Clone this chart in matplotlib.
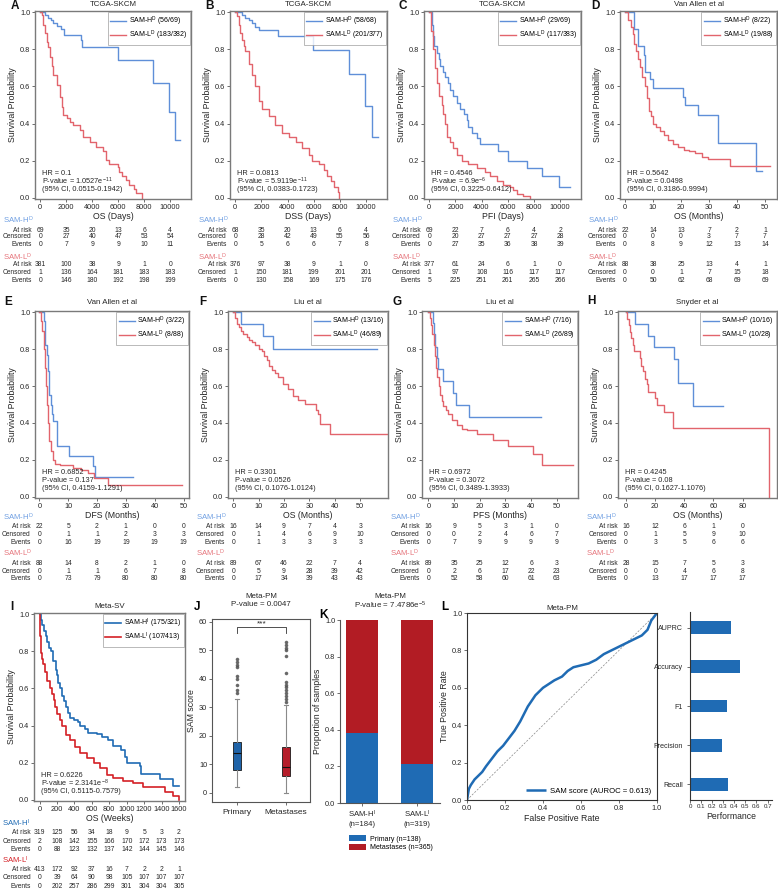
#!/usr/bin/env python3
"""Survival / Meta-PM composite figure (panels A-L)."""

import matplotlib
matplotlib.use("Agg")
import matplotlib.pyplot as plt
import matplotlib.transforms as mtransforms
from matplotlib.patches import Patch

plt.rcParams["font.family"] = ["Liberation Sans", "DejaVu Sans"]
plt.rcParams["mathtext.fontset"] = "custom"
plt.rcParams["mathtext.rm"] = "Liberation Sans"
plt.rcParams["mathtext.it"] = "Liberation Sans:italic"
plt.rcParams["mathtext.bf"] = "Liberation Sans:bold"

W, H = 778, 888

# ---------------- data ----------------
# A  TCGA-SKCM OS (days)
A_hi_t = [0, 380, 600, 800, 1000, 1300, 1600, 1800, 3100, 3250, 6000, 8650, 9870, 10380, 10760]
A_hi_s = [1, 0.985, 0.97, 0.955, 0.94, 0.925, 0.91, 0.875, 0.85, 0.81, 0.74, 0.617, 0.46, 0.31, 0.31]
A_lo_t = [0, 127, 253, 380, 506, 633, 760, 886, 1013, 1266, 1519, 1646, 1772, 2025, 2278, 2532, 3038,
          3291, 3797, 4304, 4810, 5063, 5316, 5949, 6076, 6329, 6582, 6835, 7215, 7342, 7848]
A_lo_s = [1, 0.985, 0.93, 0.89, 0.84, 0.81, 0.76, 0.71, 0.66, 0.61, 0.545, 0.49, 0.446, 0.43, 0.41, 0.39,
          0.365, 0.33, 0.30, 0.275, 0.25, 0.203, 0.185, 0.167, 0.14, 0.12, 0.095, 0.068, 0.05, 0.027, 0.0]
A_hi_tab = [[69, 35, 20, 13, 6, 4], [0, 27, 40, 47, 53, 54], [0, 7, 9, 9, 10, 11]]
A_lo_tab = [[381, 100, 38, 9, 1, 0], [1, 136, 164, 181, 183, 183], [0, 146, 180, 192, 198, 199]]

# B  TCGA-SKCM DSS (days)
B_hi_t = [0, 513, 770, 1026, 1282, 1538, 1795, 3280, 5950, 8720, 9950, 10460, 10900]
B_hi_s = [1, 0.985, 0.97, 0.955, 0.94, 0.92, 0.905, 0.87, 0.795, 0.665, 0.497, 0.33, 0.33]
B_lo_t = [0, 128, 256, 385, 513, 641, 769, 1026, 1282, 1538, 1795, 2051, 2564, 3077, 3590, 4103,
          4615, 5128, 5641, 5897, 6410, 6795, 7051, 7308, 7564, 7821, 7949]
B_lo_s = [1, 0.98, 0.93, 0.89, 0.85, 0.82, 0.79, 0.72, 0.66, 0.6, 0.52, 0.48, 0.44, 0.39, 0.35, 0.33,
          0.30, 0.27, 0.23, 0.2, 0.18, 0.15, 0.12, 0.09, 0.06, 0.03, 0.0]
B_hi_tab = [[68, 35, 20, 13, 6, 4], [0, 28, 42, 49, 55, 56], [0, 5, 6, 6, 7, 8]]
B_lo_tab = [[376, 97, 38, 9, 1, 0], [1, 150, 181, 199, 201, 201], [0, 130, 158, 169, 175, 176]]

# C  TCGA-SKCM PFI (days)
C_hi_t = [0, 179, 306, 383, 561, 765, 816, 1020, 1199, 1454, 1582, 1837, 2092, 2347, 2653, 2857,
          2985, 3240, 3673, 3878, 5281, 6046, 7449, 8597, 9949, 10765]
C_hi_s = [1, 0.93, 0.87, 0.82, 0.78, 0.75, 0.71, 0.68, 0.65, 0.62, 0.58, 0.55, 0.51, 0.48, 0.45, 0.42,
          0.38, 0.35, 0.32, 0.288, 0.255, 0.2, 0.16, 0.12, 0.06, 0.06]
C_lo_t = [0, 102, 255, 434, 561, 765, 944, 1071, 1199, 1378, 1582, 1837, 2092, 2474, 2985, 3622,
          4260, 4643, 5153, 5663, 6173, 6429, 6684, 7194, 7704]
C_lo_s = [1, 0.9, 0.8, 0.7, 0.62, 0.55, 0.5, 0.45, 0.4, 0.33, 0.3, 0.27, 0.23, 0.2, 0.18, 0.16,
          0.14, 0.12, 0.09, 0.07, 0.06, 0.04, 0.02, 0.01, 0.0]
C_hi_tab = [[69, 22, 7, 6, 4, 2], [0, 20, 27, 27, 27, 28], [0, 27, 35, 36, 38, 39]]
C_lo_tab = [[377, 61, 24, 6, 1, 0], [1, 97, 108, 116, 117, 117], [5, 225, 251, 261, 265, 266]]

# D  Van Allen OS (months)
D_hi_t = [0, 3.3, 4.5, 6.9, 7.1, 8.9, 10.1, 20.8, 21.4, 26, 33.3, 46.7, 48.8]
D_hi_s = [1, 0.91, 0.82, 0.77, 0.68, 0.64, 0.59, 0.545, 0.5, 0.445, 0.295, 0.145, 0.145]
D_lo_t = [0, 1, 2.1, 2.7, 3.3, 3.9, 4.5, 5.4, 6.2, 7.1, 7.9, 8.6, 9.3, 10.1, 11, 12.5, 14, 15.5,
          17, 19, 21, 23, 25, 27.4, 29.8, 37.5, 51.8]
D_lo_s = [1, 0.96, 0.92, 0.88, 0.83, 0.79, 0.75, 0.707, 0.65, 0.6, 0.54, 0.47, 0.44, 0.4, 0.38, 0.36,
          0.34, 0.31, 0.29, 0.275, 0.26, 0.25, 0.24, 0.22, 0.21, 0.17, 0.17]
D_hi_tab = [[22, 14, 13, 7, 2, 1], [0, 0, 0, 3, 7, 7], [0, 8, 9, 12, 13, 14]]
D_lo_tab = [[88, 38, 25, 13, 4, 1], [0, 0, 1, 7, 15, 18], [0, 50, 62, 68, 69, 69]]

# E  Van Allen DFS (months)
E_hi_t = [0, 1.5, 1.8, 2, 2.5, 3, 3.2, 3.5, 4, 4.3, 4.6, 6.0, 10.3, 18.5, 19.4, 32.5]
E_hi_s = [1, 0.95, 0.9, 0.82, 0.77, 0.68, 0.6, 0.55, 0.5, 0.45, 0.41, 0.275, 0.22, 0.165, 0.11, 0.11]
E_lo_t = [0, 0.5, 1, 1.5, 2, 2.4, 2.8, 3.1, 3.5, 4, 4.6, 5.5, 7.2, 11.7, 14.5, 16.8, 18.9, 23.9, 49.5]
E_lo_s = [1, 0.95, 0.9, 0.8, 0.7, 0.6, 0.5, 0.4, 0.3, 0.25, 0.2, 0.18, 0.17, 0.155, 0.145, 0.13,
          0.1, 0.065, 0.065]
E_hi_tab = [[22, 5, 2, 1, 0, 0], [0, 1, 1, 2, 3, 3], [0, 16, 19, 19, 19, 19]]
E_lo_tab = [[88, 14, 8, 2, 1, 0], [0, 1, 1, 6, 7, 8], [0, 73, 79, 80, 80, 80]]

# F  Liu OS (months)
F_hi_t = [0, 2.9, 11.8, 15.8, 56.6]
F_hi_s = [1, 0.937, 0.87, 0.80, 0.80]
F_lo_t = [0, 0.6, 1.3, 2.2, 2.9, 4, 5.3, 6.3, 7.2, 8.6, 10, 11.2, 12.2, 13.2, 14.2, 15.1, 16.5, 17.8,
          19.7, 21.7, 23.7, 25.7, 28.4, 32.6, 33.5, 34.2, 38.2, 60.5]
F_lo_s = [1, 0.97, 0.937, 0.92, 0.9, 0.88, 0.865, 0.85, 0.84, 0.82, 0.80, 0.79, 0.76, 0.74, 0.71,
          0.685, 0.67, 0.65, 0.61, 0.585, 0.545, 0.525, 0.505, 0.47, 0.45, 0.396, 0.342, 0.342]
F_hi_tab = [[16, 14, 9, 7, 4, 3], [0, 1, 4, 6, 9, 10], [0, 1, 3, 3, 3, 3]]
F_lo_tab = [[89, 67, 46, 22, 7, 4], [0, 5, 9, 28, 39, 42], [0, 17, 34, 39, 43, 43]]

# G  Liu PFS (months)
G_hi_t = [0, 1.6, 2.0, 2.5, 3.4, 3.9, 5.6, 9.7, 10.6, 15.8, 44]
G_hi_s = [1, 0.94, 0.88, 0.81, 0.75, 0.69, 0.625, 0.56, 0.5, 0.43, 0.43]
G_lo_t = [0, 0.5, 1, 1.5, 2, 2.5, 3, 3.5, 4, 4.5, 5.2, 5.8, 6.8, 7.8, 9.1, 11, 13, 15, 18.8, 25.3,
          31.2, 40.9, 44.2, 56.2]
G_lo_s = [1, 0.97, 0.93, 0.88, 0.82, 0.76, 0.7, 0.65, 0.6, 0.55, 0.52, 0.49, 0.47, 0.45, 0.415, 0.39,
          0.37, 0.36, 0.34, 0.306, 0.274, 0.23, 0.17, 0.17]
G_hi_tab = [[16, 9, 5, 3, 1, 0], [0, 0, 2, 4, 6, 7], [0, 7, 9, 9, 9, 9]]
G_lo_tab = [[89, 35, 25, 12, 6, 3], [0, 2, 6, 17, 22, 23], [0, 52, 58, 60, 61, 63]]

# H  Snyder OS (months)
H_hi_t = [0, 6.2, 15.3, 19.2, 33, 36, 45.7, 66.3]
H_hi_s = [1, 0.935, 0.87, 0.81, 0.745, 0.615, 0.49, 0.49]
H_lo_t = [0, 0.9, 1.8, 2.7, 3.7, 4.6, 5.5, 9.6, 10.5, 11.9, 13.0, 14.2, 15.3, 20.1, 21.0, 26,
          32.5, 98.3]
H_lo_s = [1, 0.964, 0.93, 0.89, 0.86, 0.82, 0.79, 0.75, 0.71, 0.68, 0.64, 0.61, 0.57, 0.535, 0.5,
          0.46, 0.375, 0.0]
H_hi_tab = [[16, 12, 6, 1, 0], [0, 1, 5, 9, 10], [0, 3, 5, 6, 6]]
H_lo_tab = [[28, 15, 7, 5, 3], [0, 0, 4, 6, 8], [0, 13, 17, 17, 17]]

# I  Meta-SV OS (weeks)
I_hi_t = [0, 10, 25, 45, 68, 90, 110, 125, 150, 183, 200, 215, 232, 255, 275, 297, 320, 354, 400,
          440, 468, 520, 560, 660, 720, 790, 848, 930, 980, 1000, 1150, 1170, 1380, 1530, 1600]
I_hi_s = [1, 0.97, 0.94, 0.91, 0.88, 0.85, 0.82, 0.8, 0.75, 0.7, 0.67, 0.63, 0.6, 0.56, 0.53, 0.5,
          0.47, 0.44, 0.43, 0.42, 0.4, 0.38, 0.36, 0.355, 0.34, 0.32, 0.29, 0.27, 0.23, 0.2, 0.18,
          0.14, 0.11, 0.075, 0.075]
I_lo_t = [0, 3, 6, 11, 20, 30, 42, 60, 87, 118, 140, 163, 180, 201, 230, 258, 297, 354, 411, 468,
          544, 620, 696, 772, 848, 962, 1076, 1190, 1437, 1532, 1600]
I_lo_s = [1, 0.93, 0.88, 0.83, 0.79, 0.76, 0.73, 0.69, 0.64, 0.6, 0.57, 0.535, 0.5, 0.46, 0.43, 0.4,
          0.35, 0.32, 0.285, 0.25, 0.225, 0.2, 0.17, 0.135, 0.12, 0.1, 0.09, 0.072, 0.045, 0.02, 0.0]
I_hi_tab = [[319, 125, 56, 34, 18, 9, 5, 3, 2],
            [2, 108, 142, 155, 166, 170, 172, 173, 173],
            [0, 88, 123, 132, 137, 142, 144, 145, 146]]
I_lo_tab = [[413, 172, 92, 37, 16, 7, 2, 2, 1],
            [0, 39, 64, 90, 98, 105, 107, 107, 107],
            [0, 202, 257, 286, 299, 301, 304, 304, 305]]

# J  SAM score by site
J_groups = ["Primary", "Metastases"]
J_median = [14, 9]
J_q1 = [8, 6]
J_q3 = [18, 16]
J_whislo = [2, 0]
J_whishi = [33, 31]
J_fliers = [[35, 36, 38, 40, 41, 44, 45, 46, 47],
            [32, 33, 34, 35, 36, 37, 38, 39, 42, 48, 50, 51, 52, 53]]

# K  proportion of samples
K_groups = [r"SAM-H$^{\mathregular{I}}$" + "\n(n=184)", r"SAM-L$^{\mathregular{I}}$" + "\n(n=319)"]
K_primary = [0.38, 0.213]
K_metastases = [0.62, 0.787]

# L  ROC + performance
L_fpr = [0, 0.005, 0.01, 0.02, 0.04, 0.06, 0.08, 0.10, 0.13, 0.16, 0.19, 0.22, 0.25, 0.28, 0.30,
         0.32, 0.34, 0.36, 0.38, 0.40, 0.43, 0.46, 0.50, 0.53, 0.56, 0.60, 0.64, 0.68, 0.72, 0.76,
         0.80, 0.84, 0.88, 0.92, 0.95, 0.97, 1.0]
L_tpr = [0, 0.03, 0.06, 0.08, 0.11, 0.13, 0.15, 0.18, 0.22, 0.26, 0.29, 0.33, 0.37, 0.42, 0.46,
         0.50, 0.53, 0.56, 0.58, 0.60, 0.62, 0.64, 0.66, 0.69, 0.71, 0.72, 0.73, 0.75, 0.78, 0.80,
         0.82, 0.84, 0.86, 0.88, 0.91, 0.96, 1.0]
perf_metrics = ["AUPRC", "Accuracy", "F1", "Precision", "Recall"]
perf_values = [0.37, 0.45, 0.33, 0.29, 0.34]

# ---------------- style ----------------
HI_C, LO_C = "#5f8fd8", "#e2646c"
HI_HDR, LO_HDR = "#6f9fe2", "#e6747b"
META_HI, META_LO = "#1f6bb4", "#d42026"
BOX_BLUE, BOX_RED = "#1f63a8", "#b51d2a"
SPINE = "#7a7a7a"
TXT = "#262626"

fig = plt.figure(figsize=(W / 100, H / 100), dpi=100, facecolor="white")


def add_ax(left, top, right, bottom):
    return fig.add_axes([left / W, 1 - bottom / H, (right - left) / W, (bottom - top) / H])


def fy(ypx):
    return 1 - ypx / H


def style_box(ax, color=SPINE, lw=1.0):
    for sp in ax.spines.values():
        sp.set_color(color)
        sp.set_linewidth(lw)
    ax.tick_params(length=2.2, width=0.6, color="#555555", labelsize=5.3, pad=1.2, labelcolor=TXT)


def sup(s):
    return r"$^{\mathregular{" + s + "}}$"


def km_panel(box, hi, lo, colors, counts, xlim, xticks, xlabel, title, stats, letter,
             table, rows_y, head_colors, tag, title_y, letter_xy, lw=1.0):
    ax = add_ax(*box)
    hi_lab = "SAM-H" + sup(tag) + " (" + counts[0] + ")"
    lo_lab = "SAM-L" + sup(tag) + " (" + counts[1] + ")"
    ax.step(hi[0], hi[1], where="post", color=colors[0], lw=lw, label=hi_lab)
    ax.step(lo[0], lo[1], where="post", color=colors[1], lw=lw, label=lo_lab)
    ax.set_xlim(*xlim)
    ax.set_ylim(-0.006, 1.006)
    ax.set_xticks(xticks)
    ax.set_xticklabels([str(t) for t in xticks])
    ax.set_yticks([0, 0.2, 0.4, 0.6, 0.8, 1.0])
    ax.set_yticklabels(["0.0", "0.2", "0.4", "0.6", "0.8", "1.0"])
    style_box(ax)
    ax.set_xlabel(xlabel, fontsize=6.3, labelpad=1, color=TXT)
    ax.set_ylabel("Survival Probability", fontsize=6.3, labelpad=2, color=TXT)
    leg = ax.legend(loc="upper right", fontsize=5, frameon=True, fancybox=False,
                    borderaxespad=0.15, borderpad=0.35, labelspacing=0.15,
                    handlelength=2.3, handletextpad=0.4)
    leg.get_frame().set_edgecolor("#9a9a9a")
    leg.get_frame().set_linewidth(0.6)
    for yf, line in zip([0.135, 0.092, 0.05], stats):
        ax.text(0.045, yf, line, transform=ax.transAxes, fontsize=5.3, va="center", ha="left",
                color=TXT)
    cx = (box[0] + box[2]) / 2
    fig.text(cx / W, fy(title_y), title, ha="center", va="center", fontsize=5.7, color=TXT)
    fig.text(letter_xy[0] / W, fy(letter_xy[1]), letter, ha="center", va="center",
             fontsize=8.5, fontweight="bold", color="#111111")

    # numbers-at-risk table
    blend = mtransforms.blended_transform_factory(ax.transData, fig.transFigure)
    lab_tr = mtransforms.offset_copy(blend, fig=fig, x=-6.3, y=0, units="points")
    names = ["At risk", "Censored", "Events"]
    for g, (rows, name, hc) in enumerate(zip(table, ["SAM-H" + sup(tag), "SAM-L" + sup(tag)],
                                             head_colors)):
        fig.text(max(box[0] - 32, 2) / W, fy(rows_y[g * 4]), name, color=hc, fontsize=5.6,
                 ha="left", va="center")
        for r in range(3):
            yy = fy(rows_y[g * 4 + 1 + r])
            ax.text(xticks[0], yy, names[r], transform=lab_tr, ha="right", va="center",
                    fontsize=4.8, color=TXT)
            for t, v in zip(xticks, rows[r]):
                ax.text(t, yy, str(v), transform=blend, ha="center", va="center",
                        fontsize=4.9, color=TXT)
    return ax


ROW1_Y = [220, 230, 237, 244, 257, 265, 272, 280]
ROW2_Y = [517, 526, 534, 542, 553, 563, 571, 578]
ROW3_Y = [823, 832, 841, 849, 860, 869, 877, 886]
days = [0, 2000, 4000, 6000, 8000, 10000]
months50 = [0, 10, 20, 30, 40, 50]
light = (HI_C, LO_C)
light_hdr = (HI_HDR, LO_HDR)
TG = "D"

km_panel((35, 11, 191, 199), (A_hi_t, A_hi_s), (A_lo_t, A_lo_s), light, ("56/69", "183/382"),
         (-400, 11600), days, "OS (Days)", "TCGA-SKCM",
         ["HR = 0.1", "P-value = 1.0527e" + sup("-11"), "(95% CI, 0.0515-0.1942)"], "A",
         (A_hi_tab, A_lo_tab), ROW1_Y, light_hdr, TG, 4, (15, 6))
km_panel((230, 11, 387, 199), (B_hi_t, B_hi_s), (B_lo_t, B_lo_s), light, ("58/68", "201/377"),
         (-400, 11600), days, "DSS (Days)", "TCGA-SKCM",
         ["HR = 0.0813", "P-value = 5.9119e" + sup("-11"), "(95% CI, 0.0383-0.1723)"], "B",
         (B_hi_tab, B_lo_tab), ROW1_Y, light_hdr, TG, 4, (210, 6))
km_panel((424, 11, 581, 199), (C_hi_t, C_hi_s), (C_lo_t, C_lo_s), light, ("29/69", "117/383"),
         (-400, 11600), days, "PFI (Days)", "TCGA-SKCM",
         ["HR = 0.4546", "P-value = 6.9e" + sup("-6"), "(95% CI, 0.3225-0.6412)"], "C",
         (C_hi_tab, C_lo_tab), ROW1_Y, light_hdr, TG, 4, (403, 6))
km_panel((620, 11, 777, 199), (D_hi_t, D_hi_s), (D_lo_t, D_lo_s), light, ("8/22", "19/88"),
         (-1.8, 54.3), months50, "OS (Months)", "Van Allen et al",
         ["HR = 0.5642", "P-value = 0.0498", "(95% CI, 0.3186-0.9994)"], "D",
         (D_hi_tab, D_lo_tab), ROW1_Y, light_hdr, TG, 4, (595, 6))

km_panel((35, 311, 189, 498), (E_hi_t, E_hi_s), (E_lo_t, E_lo_s), light, ("3/22", "8/88"),
         (-1.5, 51.9), months50, "DFS (Months)", "Van Allen et al",
         ["HR = 0.6852", "P-value = 0.137", "(95% CI, 0.4159-1.1291)"], "E",
         (E_hi_tab, E_lo_tab), ROW2_Y, light_hdr, TG, 302, (8, 302))
km_panel((228, 311, 388, 498), (F_hi_t, F_hi_s), (F_lo_t, F_lo_s), light, ("13/16", "46/89"),
         (-2.1, 61), months50, "OS (Months)", "Liu et al",
         ["HR = 0.3301", "P-value = 0.0526", "(95% CI, 0.1076-1.0124)"], "F",
         (F_hi_tab, F_lo_tab), ROW2_Y, light_hdr, TG, 302, (203, 302))
km_panel((422, 311, 578, 498), (G_hi_t, G_hi_s), (G_lo_t, G_lo_s), light, ("7/16", "26/89"),
         (-2.5, 58.3), months50, "PFS (Months)", "Liu et al",
         ["HR = 0.6972", "P-value = 0.3072", "(95% CI, 0.3489-1.3933)"], "G",
         (G_hi_tab, G_lo_tab), ROW2_Y, light_hdr, TG, 302, (397, 302))
km_panel((618, 311, 777, 498), (H_hi_t, H_hi_s), (H_lo_t, H_lo_s), light, ("10/16", "10/28"),
         (-5.5, 103.6), [0, 20, 40, 60, 80], "OS (Months)", "Snyder et al",
         ["HR = 0.4245", "P-value = 0.08", "(95% CI, 0.1627-1.1076)"], "H",
         (H_hi_tab, H_lo_tab), ROW2_Y, light_hdr, TG, 302, (591, 301))

km_panel((34, 613, 185, 801), (I_hi_t, I_hi_s), (I_lo_t, I_lo_s), (META_HI, META_LO),
         ("175/321", "107/413"), (-65, 1670), [0, 200, 400, 600, 800, 1000, 1200, 1400, 1600],
         "OS (Weeks)", "Meta-SV",
         ["HR = 0.6226", "P-value = 2.3141e" + sup("-8"), "(95% CI, 0.5115-0.7579)"], "I",
         (I_hi_tab, I_lo_tab), ROW3_Y, (META_HI, META_LO), "I", 607, (12, 607), lw=1.2)

# ---------------- J: boxplot ----------------
axj = add_ax(212, 619, 310, 802)
stats = []
for i, g in enumerate(J_groups):
    stats.append(dict(label=g, med=J_median[i], q1=J_q1[i], q3=J_q3[i],
                      whislo=J_whislo[i], whishi=J_whishi[i], fliers=J_fliers[i]))
bp = axj.bxp(stats, positions=[1, 2], widths=0.16, patch_artist=True,
             medianprops=dict(color="#111111", lw=0.8),
             whiskerprops=dict(color="#8a8a8a", lw=0.8),
             capprops=dict(color="#8a8a8a", lw=0.8),
             boxprops=dict(edgecolor="#1a1a1a", lw=0.6),
             flierprops=dict(marker="o", markersize=1.6, markerfacecolor="#555555",
                             markeredgecolor="#555555", alpha=0.8))
for patch, c in zip(bp["boxes"], [BOX_BLUE, BOX_RED]):
    patch.set_facecolor(c)
axj.set_xlim(0.49, 2.49)
axj.set_ylim(-3.2, 61)
axj.set_yticks([0, 10, 20, 30, 40, 50, 60])
style_box(axj, color="#555555", lw=0.8)
axj.tick_params(axis="x", labelsize=6, pad=2.5)
axj.set_ylabel("SAM score", fontsize=6.3, labelpad=2, color=TXT)
axj.plot([1, 1, 2, 2], [56.2, 58.2, 58.2, 56.2], color="#333333", lw=0.6)
axj.text(1.5, 59.3, "***", ha="center", va="center", fontsize=6, color=TXT)
fig.text(261 / W, fy(597), "Meta-PM", ha="center", va="center", fontsize=5.7, color=TXT)
fig.text(261 / W, fy(605), "P-value = 0.0047", ha="center", va="center", fontsize=5.7, color=TXT)
fig.text(197 / W, fy(607), "J", ha="center", va="center", fontsize=8.5, fontweight="bold")

# ---------------- K: stacked proportion ----------------
axk = add_ax(340, 620, 440, 803)
xk = [0, 1]
axk.bar(xk, K_primary, width=0.58, color=META_HI, edgecolor="none")
axk.bar(xk, K_metastases, width=0.58, bottom=K_primary, color="#b21c24", edgecolor="none")
axk.set_xlim(-0.4, 1.42)
axk.set_ylim(0, 1.0)
axk.set_xticks(xk)
axk.set_xticklabels(K_groups)
axk.set_yticks([0, 0.2, 0.4, 0.6, 0.8, 1.0])
axk.set_yticklabels(["0.0", "0.2", "0.4", "0.6", "0.8", "1.0"])
style_box(axk, color="#555555", lw=0.8)
axk.spines["top"].set_visible(False)
axk.spines["right"].set_visible(False)
axk.tick_params(axis="x", labelsize=5.6, pad=2)
axk.set_ylabel("Proportion of samples", fontsize=6.3, labelpad=2, color=TXT)
fig.legend(handles=[Patch(facecolor=META_HI, label="Primary (n=138)"),
                    Patch(facecolor="#b21c24", label="Metastases (n=365)")],
           loc="upper left", bbox_to_anchor=(346 / W, fy(832)), frameon=False, fontsize=5,
           handlelength=2.4, handleheight=0.8, labelspacing=0.25, borderpad=0, handletextpad=0.5)
fig.text(390 / W, fy(597), "Meta-PM", ha="center", va="center", fontsize=5.7, color=TXT)
fig.text(390 / W, fy(605), "P-value = 7.4786e" + sup("-5"), ha="center", va="center",
         fontsize=5.7, color=TXT)
fig.text(323 / W, fy(615), "K", ha="center", va="center", fontsize=8.5, fontweight="bold")

# ---------------- L: ROC ----------------
axl = add_ax(467, 613, 657, 800)
axl.plot([0, 1], [0, 1], ls="--", color="#888888", lw=0.5, dashes=(3, 2))
axl.plot(L_fpr, L_tpr, color=META_HI, lw=1.8, label="SAM score (AUROC = 0.613)",
         solid_capstyle="butt")
axl.set_xlim(0, 1)
axl.set_ylim(0, 1)
ticks = [0, 0.2, 0.4, 0.6, 0.8, 1.0]
axl.set_xticks(ticks)
axl.set_yticks(ticks)
axl.set_xticklabels(["0.0", "0.2", "0.4", "0.6", "0.8", "1.0"])
axl.set_yticklabels(["0.0", "0.2", "0.4", "0.6", "0.8", "1.0"])
style_box(axl, color="#333333", lw=0.8)
axl.set_xlabel("False Positive Rate", fontsize=6.3, labelpad=1.5, color=TXT)
axl.set_ylabel("True Positive Rate", fontsize=6.3, labelpad=2, color=TXT)
axl.legend(loc="lower right", frameon=False, fontsize=5.6, handlelength=2.6,
           borderaxespad=0.3, handletextpad=0.5)
axl.set_title("Meta-PM", fontsize=5.7, pad=2, color=TXT)
fig.text(445 / W, fy(607), "L", ha="center", va="center", fontsize=8.5, fontweight="bold")

# ---------------- L right: performance bars ----------------
axp = add_ax(690, 612, 772, 800)
yp = list(range(len(perf_metrics)))
axp.barh(yp, perf_values, height=0.33, color=META_HI, edgecolor="none")
axp.set_ylim(4.4, -0.4)
axp.set_xlim(0, 0.74)
axp.set_yticks(yp)
axp.set_yticklabels(perf_metrics)
axp.set_xticks([0, 0.1, 0.2, 0.3, 0.4, 0.5, 0.6, 0.7])
axp.set_xticklabels(["0", "0.1", "0.2", "0.3", "0.4", "0.5", "0.6", "0.7"])
style_box(axp, color="#333333", lw=0.8)
axp.spines["top"].set_visible(False)
axp.spines["right"].set_visible(False)
axp.tick_params(axis="x", labelsize=4.4, pad=1)
axp.tick_params(axis="y", labelsize=5.1, pad=3)
axp.set_xlabel("Performance", fontsize=6.2, labelpad=2, color=TXT)

fig.savefig("out.png", dpi=100, facecolor="white")
